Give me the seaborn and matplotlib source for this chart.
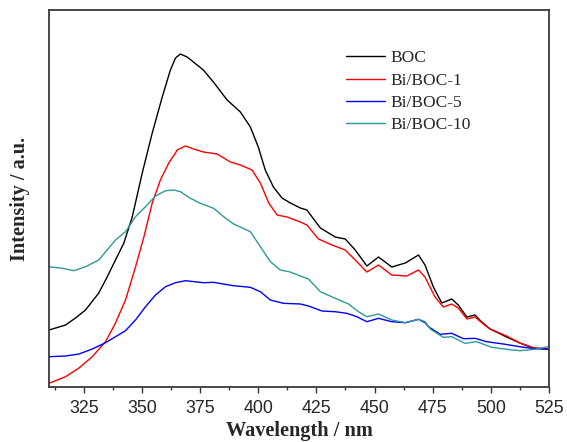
import numpy as np
import pandas as pd
import matplotlib
matplotlib.use("Agg")
import matplotlib.pyplot as plt
from matplotlib.ticker import MultipleLocator
import seaborn as sns

# ---- data (arbitrary intensity units) ----
boc_x = [310.0, 317.1, 321.4, 325.7, 331.4, 335.0, 338.6, 342.2, 345.8, 350.1, 354.4, 358.7,
         362.2, 364.4, 366.5, 369.4, 372.1, 376.4, 380.7, 386.6, 392.3, 396.6, 400.0, 403.0,
         406.5, 410.2, 413.8, 418.1, 420.9, 426.7, 433.1, 437.4, 441.7, 446.7, 451.7, 457.4,
         463.2, 468.9, 471.7, 475.3, 478.9, 483.2, 486.0, 489.7, 493.2, 496.1, 499.7, 506.8,
         512.5, 518.1, 525.4]
boc_y = [57, 62, 69, 77, 94, 110, 127, 144, 170, 214, 254, 290,
         317, 329, 333, 330, 325, 317, 305, 287, 275, 260, 240, 217,
         200, 189, 184, 179, 177, 159, 150, 148, 137, 121, 130, 120,
         124, 132, 122, 100, 84, 88, 82, 70, 72, 65, 58, 50,
         44, 39, 38]

bb1_x = [310.0, 317.1, 322.9, 328.6, 334.3, 338.6, 342.9, 347.2, 350.8, 354.4, 357.9, 361.5,
         364.4, 365.1, 368.7, 372.2, 376.4, 382.3, 388.0, 392.3, 397.3, 400.9, 404.5, 408.1,
         412.4, 418.1, 420.9, 425.9, 431.7, 437.4, 441.7, 446.7, 451.7, 457.4, 463.9, 468.9,
         471.7, 476.0, 479.6, 483.2, 486.0, 489.7, 493.2, 496.8, 499.7, 506.8, 512.5, 518.9,
         525.4]
bb1_y = [3.7, 10.3, 19, 30.3, 45.3, 64, 87, 120, 150, 184, 207, 224,
         234, 237, 241, 238, 235, 233, 225, 222, 217, 204, 184, 172,
         170, 165, 162, 148, 142, 137, 127, 115, 122, 112, 111, 117,
         110, 90, 80, 83, 79, 68, 70, 63, 58, 51, 44, 39,
         38]

bb5_x = [310.0, 317.1, 322.9, 328.6, 334.3, 338.6, 342.9, 347.2, 351.5, 355.8, 360.1, 364.4,
         368.7, 376.4, 380.7, 389.3, 396.6, 400.9, 405.2, 410.8, 418.1, 421.6, 427.4, 433.1,
         438.1, 442.4, 446.7, 451.7, 457.4, 463.2, 468.9, 471.7, 473.2, 478.2, 483.2, 488.2,
         493.2, 498.2, 505.4, 512.5, 518.9, 525.4]
bb5_y = [30.3, 31, 33, 38, 44.3, 50.3, 56.3, 67, 80.3, 92, 100.3, 104.3,
         106.3, 104.3, 104.7, 101.3, 99.7, 95.3, 87, 83.7, 83, 81, 76, 75.3,
         73.7, 70.3, 65.3, 68.7, 65.3, 64.3, 67.7, 64.3, 60.3, 52.7, 53.7, 48.3,
         48.7, 45.3, 43, 40.3, 38.3, 37.7]

bb10_x = [310.0, 315.7, 320.7, 325.7, 331.4, 335.0, 338.6, 342.9, 347.2, 351.5, 355.8, 360.1,
          363.7, 366.5, 370.8, 375.1, 380.8, 385.1, 389.4, 396.6, 400.9, 405.2, 409.5, 413.8,
          418.1, 421.6, 426.7, 433.1, 438.8, 443.1, 446.7, 451.7, 457.4, 463.2, 468.9, 471.7,
          474.1, 479.6, 483.2, 488.9, 493.9, 500.4, 506.8, 512.5, 518.9, 524.7]
bb10_y = [120.3, 118.7, 116.3, 120.3, 127, 137, 147, 155.3, 170.3, 180.3, 191, 196.3,
          197, 195.3, 188.7, 183.7, 178.7, 170.3, 163, 155.3, 140.3, 125.3, 117, 115,
          111, 108, 95.3, 88.7, 83, 75.3, 70.3, 73, 67, 64.3, 67.7, 65.3,
          57.7, 49.7, 50.3, 43.7, 45.3, 39.7, 37.7, 36.3, 37.7, 40.3]

labels = ["BOC", "Bi/BOC-1", "Bi/BOC-5", "Bi/BOC-10"]
colors = ["#000000", "#ff0000", "#0000ff", "#2f9898"]
x_ticks = [325, 350, 375, 400, 425, 450, 475, 500, 525]

frames = []
for lab, xs, ys in zip(labels, [boc_x, bb1_x, bb5_x, bb10_x], [boc_y, bb1_y, bb5_y, bb10_y]):
    frames.append(pd.DataFrame({"Wavelength": xs, "Intensity": ys, "Sample": lab}))
df = pd.concat(frames, ignore_index=True)

sns.set_style("ticks")
plt.rcParams["font.family"] = ["Liberation Sans", "DejaVu Sans"]

fig = plt.figure(figsize=(5.67, 4.42), dpi=100)
ax = fig.add_axes([0.0864, 0.1244, 0.8818, 0.8530])

sns.lineplot(data=df, x="Wavelength", y="Intensity", hue="Sample",
             hue_order=labels, palette=colors, linewidth=1.0, ax=ax,
             sort=False, estimator=None)

ax.set_xlim(310, 525)
ax.set_ylim(0, 377)
ax.set_xticks(x_ticks)
ax.xaxis.set_minor_locator(MultipleLocator(12.5))
ax.set_yticks([])
ax.tick_params(axis="x", which="major", direction="out", length=4.3, width=1.0,
               labelsize=12.8, color="#333333", pad=5)
ax.tick_params(axis="x", which="minor", direction="out", length=2.3, width=1.0,
               color="#333333")
for s in ax.spines.values():
    s.set_visible(True)
    s.set_linewidth(1.3)
    s.set_color("#3a3a3a")

ax.set_xlabel("Wavelength / nm", fontsize=14.6, fontweight="bold",
              family=["Liberation Serif", "DejaVu Serif"], labelpad=3)
ax.set_ylabel("Intensity / a.u.", fontsize=14.6, fontweight="bold",
              family=["Liberation Serif", "DejaVu Serif"], labelpad=14)

leg = ax.legend(loc="upper left", bbox_to_anchor=(0.595, 0.893), frameon=False,
                prop={"family": ["Liberation Serif", "DejaVu Serif"], "size": 12.5},
                handlelength=2.2, handletextpad=0.35, labelspacing=0.35,
                borderaxespad=0, borderpad=0)

fig.savefig("out.png", dpi=100)
